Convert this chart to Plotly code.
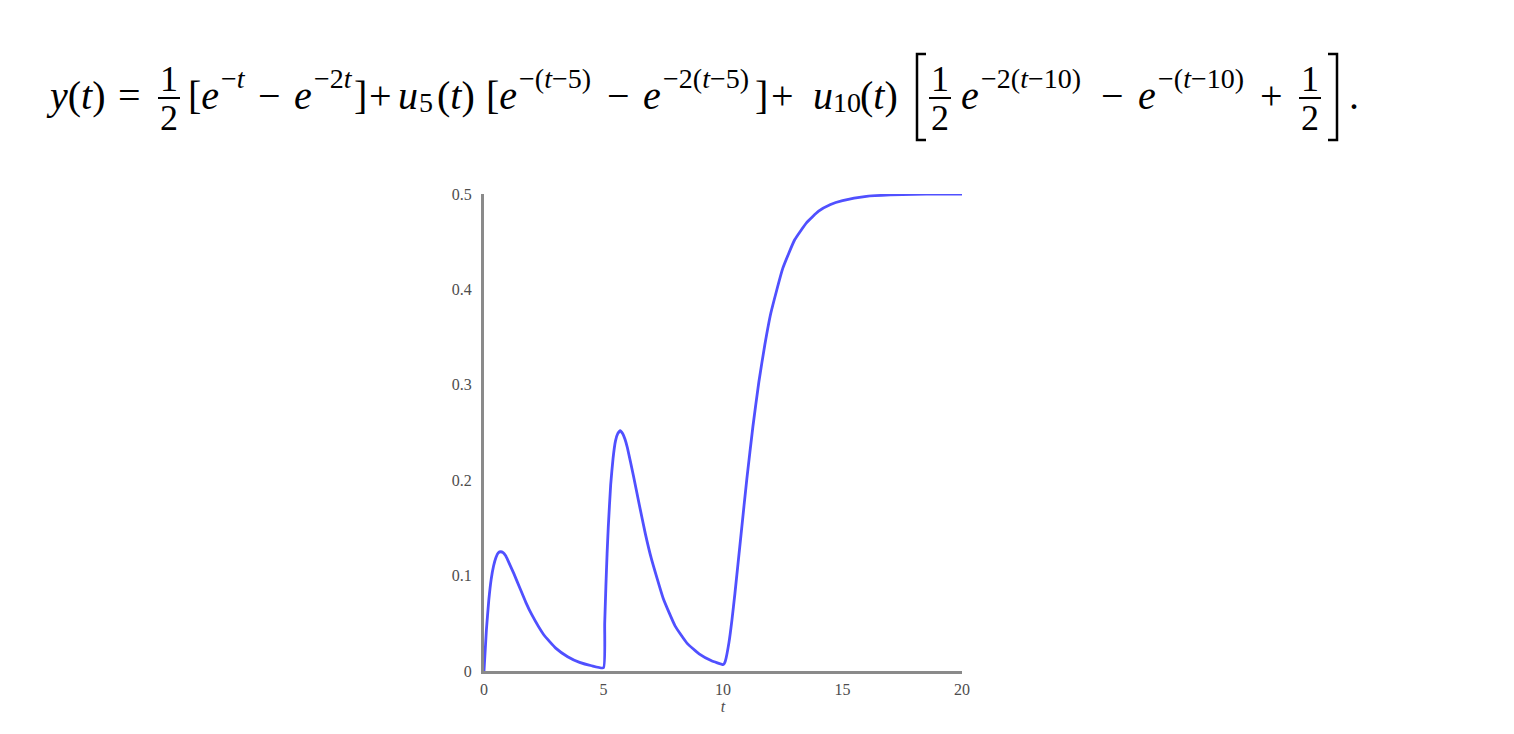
import plotly.graph_objects as go

# Values
t_vals = [0, 0.1, 0.2, 0.3, 0.4, 0.5, 0.6, 0.7, 0.8, 0.9, 1.0, 1.25, 1.5, 1.75, 2.0, 2.5, 3.0, 3.5, 4.0, 4.5, 5.0,
          5.05, 5.1, 5.15, 5.2, 5.3, 5.4, 5.5, 5.6, 5.7, 5.8, 5.9, 6.0, 6.25, 6.5, 6.75, 7.0, 7.5, 8.0, 8.5, 9.0, 9.5, 10.0,
          10.05, 10.1, 10.25, 10.375, 10.5, 10.75, 11.0, 11.25, 11.5, 11.75, 12.0, 12.5, 13.0, 13.5, 14.0, 14.5, 15.0, 16.0, 17.0, 18.0, 19.0, 20.0]
y_vals = [0, 0.043, 0.074, 0.096, 0.110, 0.119, 0.124, 0.125, 0.124, 0.121, 0.116, 0.102, 0.087, 0.072, 0.059, 0.038, 0.024, 0.015, 0.009, 0.0055, 0.0034,
          0.0496, 0.089, 0.123, 0.151, 0.195, 0.223, 0.241, 0.249, 0.252, 0.249, 0.243, 0.234, 0.205, 0.174, 0.144, 0.118, 0.076, 0.047, 0.029, 0.018, 0.011, 0.0067,
          0.0076, 0.0106, 0.030, 0.0536, 0.0815, 0.142, 0.202, 0.256, 0.303, 0.342, 0.375, 0.422, 0.452, 0.470, 0.482, 0.489, 0.493, 0.4975, 0.499, 0.4997, 0.4999, 0.5]

x_ticks = [0, 5, 10, 15, 20]
y_ticks = [0, 0.1, 0.2, 0.3, 0.4, 0.5]
y_tick_labels = ["0", "0.1", "0.2", "0.3", "0.4", "0.5"]

# page body has an 8px margin
OFF = 8
W, H = 1514 - 2 * OFF, 734 - 2 * OFF
PL, PT = 484, 194          # plot-area corner on screen
PW, PH = 478, 477
L, T = PL - OFF, PT - OFF
R, B = W - L - PW, H - T - PH

def px(x):
    return (x - PL) / PW

def py(y):
    return (PT + PH - y) / PH

fig = go.Figure()
fig.add_trace(go.Scatter(x=t_vals, y=y_vals, mode="lines",
                         line=dict(color="#5050ff", width=2.8, shape="spline", smoothing=0.4),
                         hoverinfo="skip", showlegend=False))

axis_font = dict(family="Liberation Serif", size=16, color="#4d4d4d")
fig.update_layout(
    width=W, height=H,
    margin=dict(l=L, r=R, t=T, b=B),
    plot_bgcolor="white", paper_bgcolor="white",
    xaxis=dict(range=[0, 20], tickvals=x_ticks, showgrid=False, zeroline=False,
               showline=True, linecolor="#8a8a8a", linewidth=3, ticks="",
               tickfont=axis_font, ticklabelstandoff=2,
               title=dict(text="<i>t</i>", font=dict(family="Liberation Serif", size=16, color="#4d4d4d"), standoff=0)),
    yaxis=dict(range=[0, 0.5], tickvals=y_ticks, ticktext=y_tick_labels, showgrid=False, zeroline=False,
               showline=True, linecolor="#8a8a8a", linewidth=3, ticks="",
               tickfont=axis_font, ticklabelstandoff=6),
)

FF = "Liberation Serif"
M = 40      # main size
S = 28      # script size
FD = 36     # fraction digit size
YM = 96     # main line centre
YS = 79     # superscript centre
YB = 103    # subscript centre
annots = []
shapes = []

def txt(x, y, text, size=M, anchor="left"):
    annots.append(dict(x=px(x), y=py(y), xref="paper", yref="paper", text=text, showarrow=False,
                       xanchor=anchor, yanchor="middle", borderpad=0,
                       font=dict(family=FF, size=size, color="black")))

def frac(xc, w=22):
    txt(xc, 79, "1", FD, anchor="center")
    txt(xc, 118, "2", FD, anchor="center")
    shapes.append(dict(type="line", xref="paper", yref="paper", x0=px(xc - w / 2), x1=px(xc + w / 2),
                       y0=py(98), y1=py(98), line=dict(color="black", width=2)))

def bracket(x, side):
    d = 9 if side == "l" else -9
    shapes.append(dict(type="path", xref="paper", yref="paper",
                       path=f"M {px(x + d)} {py(54)} L {px(x)} {py(54)} L {px(x)} {py(140)} L {px(x + d)} {py(140)}",
                       line=dict(color="black", width=2.5)))

txt(45, YM, "<i>y</i>(<i>t</i>)")
txt(129, YM, "=", anchor="center")
frac(169)
txt(220, YM, "[<i>e</i>", anchor="right")
txt(220, YS, "−<i>t</i>", S)
txt(269, YM, "−", anchor="center")
txt(313, YM, "<i>e</i>", anchor="right")
txt(313, YS, "−2<i>t</i>", S)
txt(353, YM, "]")
txt(380, YM, "+", anchor="center")
txt(397, YM, "<i>u</i>")
txt(418, YB, "5", S)
txt(436, YM, "(<i>t</i>)")
txt(518, YM, "[<i>e</i>", anchor="right")
txt(518, YS, "−(<i>t</i>−5)", S)
txt(618, YM, "−", anchor="center")
txt(662, YM, "<i>e</i>", anchor="right")
txt(662, YS, "−2(<i>t</i>−5)", S)
txt(754, YM, "]")
txt(782, YM, "+", anchor="center")
txt(812, YM, "<i>u</i>")
txt(832, YB, "10", S)
txt(859, YM, "(<i>t</i>)")
bracket(917, "l")
frac(940)
txt(980, YM, "<i>e</i>", anchor="right")
txt(980, YS, "−2(<i>t</i>−10)", S)
txt(1112, YM, "−", anchor="center")
txt(1157, YM, "<i>e</i>", anchor="right")
txt(1157, YS, "−(<i>t</i>−10)", S)
txt(1271, YM, "+", anchor="center")
frac(1310)
bracket(1337, "r")
txt(1348, YM, ".")

fig.update_layout(annotations=annots, shapes=shapes)
fig.write_html("out.html")
